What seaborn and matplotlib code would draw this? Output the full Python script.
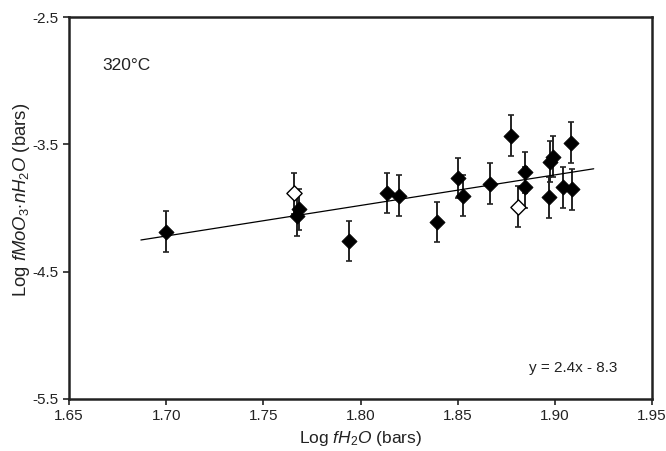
import matplotlib
matplotlib.use("Agg")
import matplotlib.pyplot as plt
import seaborn as sns
import pandas as pd
import numpy as np

# Data
filled_x = [1.700, 1.7672, 1.7684, 1.794, 1.8135, 1.820, 1.8394, 1.8502, 1.8529,
            1.8665, 1.8775, 1.8845, 1.8845, 1.8972, 1.8975, 1.8992, 1.904, 1.9083, 1.9087]
filled_y = [-4.186, -4.06, -4.01, -4.259, -3.882, -3.903, -4.11, -3.764, -3.903,
            -3.809, -3.432, -3.72, -3.838, -3.916, -3.636, -3.597, -3.838, -3.487, -3.853]
open_x = [1.766, 1.8812]
open_y = [-3.885, -3.99]
err = 0.16
fit_slope = 2.4
fit_intercept = -8.3
fit_x = [1.687, 1.920]
x_ticks = [1.65, 1.70, 1.75, 1.80, 1.85, 1.90, 1.95]
y_ticks = [-5.5, -4.5, -3.5, -2.5]

sns.set_style("ticks")
plt.rcParams['font.family'] = ['Liberation Sans', 'DejaVu Sans']
plt.rcParams['mathtext.fontset'] = 'custom'
plt.rcParams['mathtext.rm'] = 'Liberation Sans'
plt.rcParams['mathtext.it'] = 'Liberation Sans:italic'
plt.rcParams['axes.unicode_minus'] = False

fig = plt.figure(figsize=(6.66, 4.51), dpi=100)
ax = fig.add_axes([0.1036, 0.1153, 0.8754, 0.9623 - 0.1153])

df_f = pd.DataFrame({"x": filled_x, "y": filled_y})
df_o = pd.DataFrame({"x": open_x, "y": open_y})
df_fit = pd.DataFrame({"x": fit_x, "y": [fit_slope * v + fit_intercept for v in fit_x]})

ax.errorbar(filled_x + open_x, filled_y + open_y, yerr=err, fmt='none',
            ecolor='#222222', elinewidth=1.4, capsize=2.5, capthick=1.2, zorder=1)
sns.lineplot(data=df_fit, x="x", y="y", ax=ax, color='black', linewidth=0.9, zorder=2)
sns.scatterplot(data=df_f, x="x", y="y", ax=ax, marker='D', s=60, color='black',
                edgecolor='black', linewidth=0.5, zorder=3)
sns.scatterplot(data=df_o, x="x", y="y", ax=ax, marker='D', s=60, color='white',
                edgecolor='black', linewidth=1.0, zorder=3)

ax.set_xlim(1.65, 1.95)
ax.set_ylim(-5.5, -2.5)
ax.set_xticks(x_ticks)
ax.set_xticklabels([f"{v:.2f}" for v in x_ticks])
ax.set_yticks(y_ticks)
ax.set_yticklabels([f"{v:.1f}" for v in y_ticks])
ax.tick_params(axis='both', direction='out', length=4, width=1.2, labelsize=11, colors='#222222')
for side in ['left', 'bottom', 'top', 'right']:
    ax.spines[side].set_visible(True)
    ax.spines[side].set_color('#222222')
    ax.spines[side].set_linewidth(1.8)

ax.set_xlabel(r"Log $\mathit{fH_2O}$ (bars)", fontsize=12.5, color='#222222', labelpad=4)
ax.set_ylabel(r"Log $\mathit{fMoO_3{\cdot}nH_2O}$ (bars)", fontsize=13.3, color='#222222')
ax.yaxis.set_label_coords(-0.064, 0.52)

ax.text(1.6673, -2.877, "320°C", fontsize=12.5, ha='left', va='center', color='#222222')
ax.text(1.9324, -5.254, f"y = {fit_slope}x - {abs(fit_intercept)}", fontsize=11,
        ha='right', va='center', color='#222222')

fig.savefig("out.png", dpi=100)
